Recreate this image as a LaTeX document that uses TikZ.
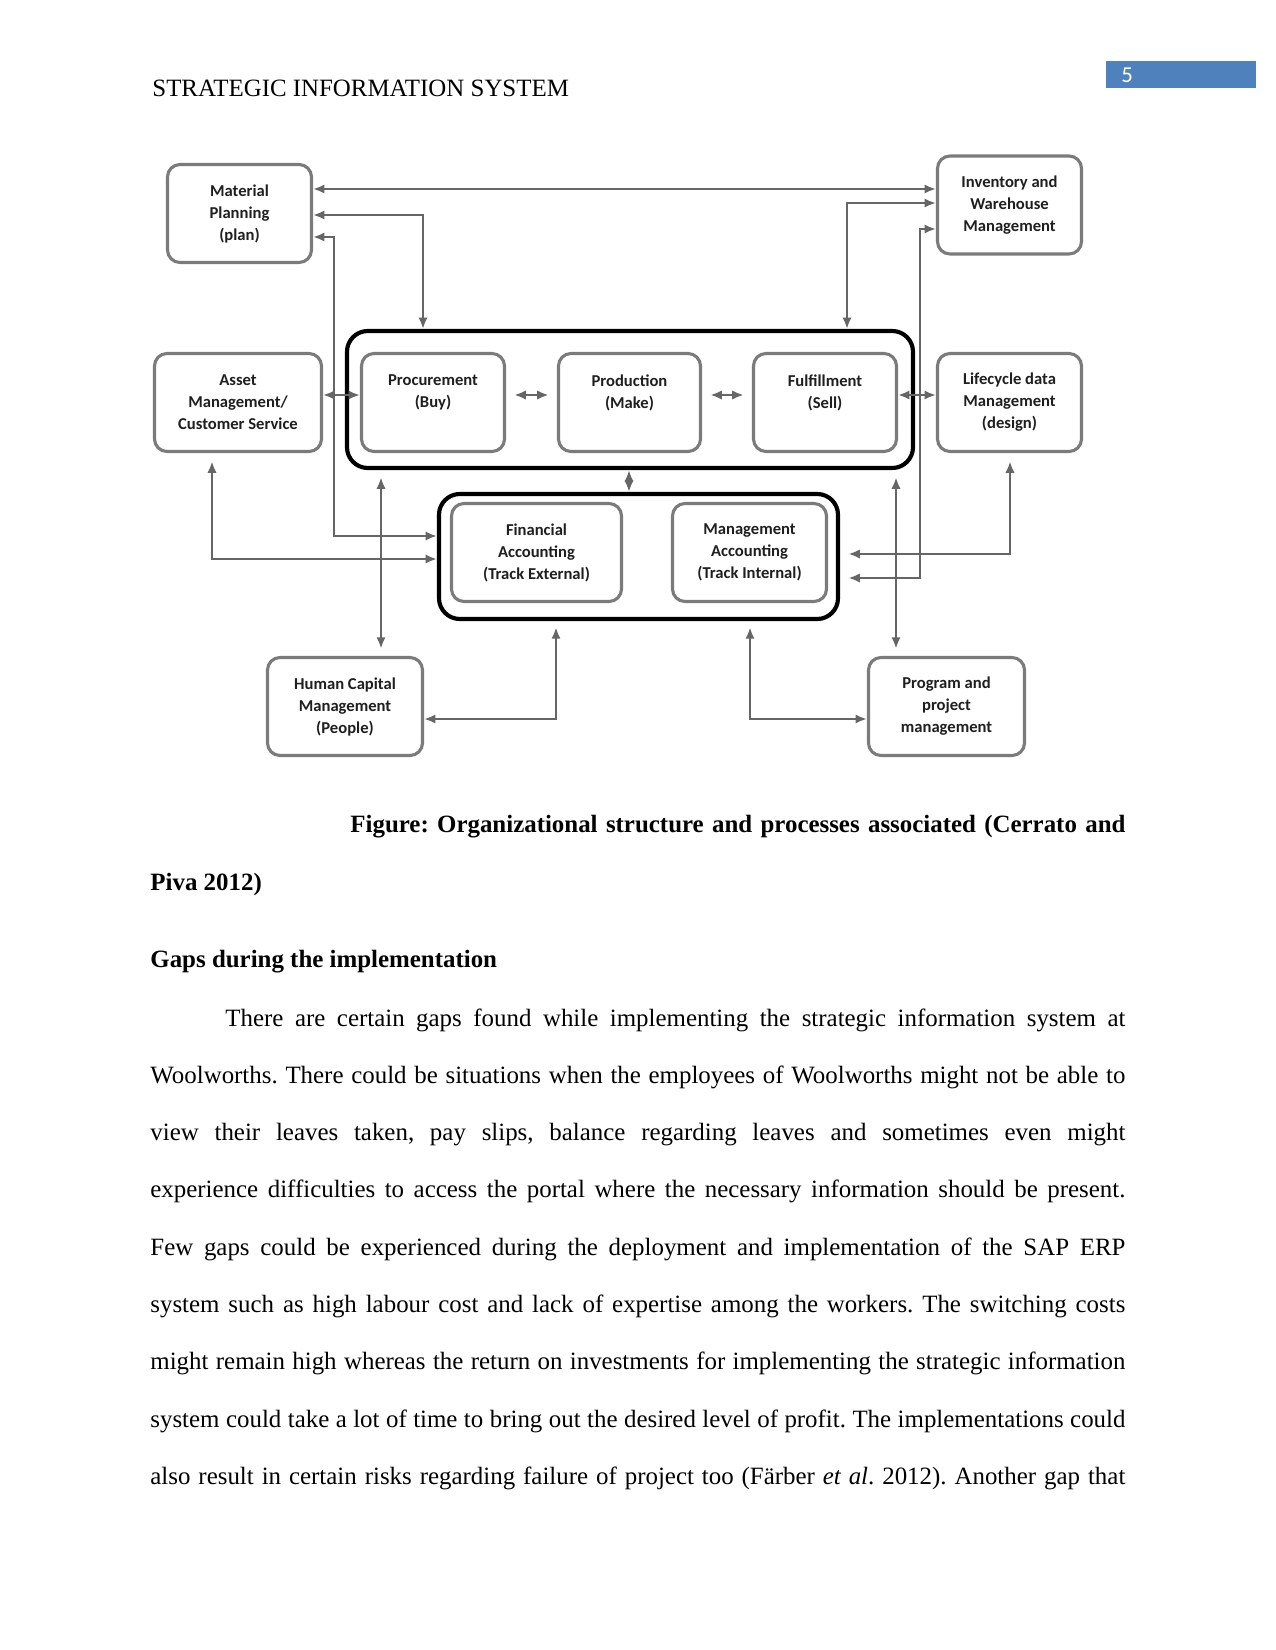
\documentclass[tikz,border=0pt]{standalone}
\usepackage{fontspec}
\setmainfont{Liberation Serif}
\newfontfamily\boxfont{Carlito}
\usetikzlibrary{arrows.meta}

\definecolor{boxgray}{HTML}{7B7B7B}
\definecolor{linkgray}{HTML}{666666}
\definecolor{headblue}{HTML}{4F81BD}
\newcommand{\pxu}{0.4818pt}
\frenchspacing

\tikzset{
  sysbox/.style={draw=boxgray, line width=1.5pt, rounded corners=6pt, fill=white,
    align=center, inner sep=0pt, text=black!88,
    font=\boxfont\bfseries\fontsize{8}{10.6}\selectfont, minimum height=98*\pxu},
  groupbox/.style={draw=black, line width=2pt, rounded corners=10pt, inner sep=0pt},
  link/.style={draw=linkgray, line width=1.2pt,
    {Latex[length=5.5pt,width=4.5pt]}-{Latex[length=5.5pt,width=4.5pt]}},
  linkgap/.style={shorten <=#1, shorten >=#1},
  bodyline/.style={anchor=base west, inner sep=0pt, font=\fontsize{12}{14}\selectfont},
  boldline/.style={bodyline, font=\bfseries\fontsize{12}{14}\selectfont}
}

\begin{document}
\begin{tikzpicture}[x=0.4818pt, y=-0.4818pt]
\useasboundingbox (0,0) rectangle (1275,1650);

% running head
\node[bodyline] (runhead) at (152,97) {STRATEGIC INFORMATION SYSTEM};
\node[fill=headblue, inner sep=0pt, minimum width=150*\pxu, minimum height=27*\pxu] (pagebox) at (1181,74.5) {};
\node[anchor=base west, inner sep=0pt, text=white, font=\boxfont\fontsize{11}{13}\selectfont] (pagenum) at (1121,83) {5};

% groups
\node[groupbox, minimum width=566*\pxu, minimum height=137*\pxu] (ops) at (630,399.5) {};
\node[groupbox, minimum width=399*\pxu, minimum height=125*\pxu] (acct) at (638.5,556.5) {};

% modules
\node[sysbox, minimum width=144*\pxu] (mp) at (239.5,213.5) {Material\\Planning\\(plan)};
\node[sysbox, minimum width=144*\pxu] (inv) at (1009.5,205) {Inventory and\\Warehouse\\Management};
\node[sysbox, minimum width=167*\pxu] (asset) at (238,402.5) {Asset\\Management/\\Customer Service};
\node[sysbox, minimum width=143*\pxu] (proc) at (433,402.5) {Procurement\\(Buy)\\\mbox{}};
\node[sysbox, minimum width=142*\pxu] (prod) at (629.5,402.5) {Production\\(Make)\\\mbox{}};
\node[sysbox, minimum width=143*\pxu] (ful) at (825,402.5) {Fulfillment\\(Sell)\\\mbox{}};
\node[sysbox, minimum width=144*\pxu] (life) at (1009.5,402.5) {Lifecycle data\\Management\\(design)};
\node[sysbox, minimum width=170*\pxu] (fin) at (536.5,552.5) {Financial\\Accounting\\(Track External)};
\node[sysbox, minimum width=154*\pxu] (mgmt) at (749.5,552.5) {Management\\Accounting\\(Track Internal)};
\node[sysbox, minimum width=155*\pxu] (hcm) at (345,706.5) {Human Capital\\Management\\(People)};
\node[sysbox, minimum width=156*\pxu] (prog) at (946.5,706.5) {Program and\\project\\management};

% links
\draw[link] (mp.east |- 0,189) -- (inv.west |- 0,189);
\draw[link] (mp.east |- 0,215) -| (ops.north -| 423,0);
\draw[link] (inv.west |- 0,203) -| (ops.north -| 847,0);
\draw[link] (mp.east |- 0,237) -| (334,536) -- (acct.west |- 0,536);
\draw[link, shorten >=4pt] (inv.west |- 0,229) -| (920,578) -- (acct.east |- 0,578);
\draw[link] (asset.east |- 0,395) -- (proc.west |- 0,395);
\draw[link, linkgap=4pt] (proc.east |- 0,395) -- (prod.west |- 0,395);
\draw[link, linkgap=4pt] (prod.east |- 0,395) -- (ful.west |- 0,395);
\draw[link] (ful.east |- 0,395) -- (life.west |- 0,395);
\draw[link] (ops.south -| 629,0) -- (acct.north -| 629,0);
\draw[link, shorten <=4pt] (asset.south -| 212,0) |- (acct.west |- 0,559);
\draw[link, linkgap=3.5pt] (ops.south -| 381,0) -- (hcm.north -| 381,0);
\draw[link, linkgap=3.5pt] (ops.south -| 896,0) -- (prog.north -| 896,0);
\draw[link, shorten <=3pt] (acct.south -| 556,0) |- (hcm.east |- 0,719);
\draw[link, shorten <=3pt] (acct.south -| 750,0) |- (prog.west |- 0,719);
\draw[link, linkgap=4pt] (life.south -| 1010,0) |- (acct.east |- 0,554);

% caption and text
\node[boldline] (cap1) at (350,832) {\makebox[373.4pt][s]{Figure: Organizational structure and processes associated (Cerrato and}};
\node[boldline] (cap2) at (150,890) {Piva 2012)};
\node[boldline] (gaps) at (150,967) {Gaps during the implementation};
\node[bodyline] (line1) at (225,1026) {\makebox[433.6pt][s]{There are certain gaps found while implementing the strategic information system at}};
\node[bodyline] (line2) at (150,1083.3) {\makebox[469.75pt][s]{Woolworths. There could be situations when the employees of Woolworths might not be able to}};
\node[bodyline] (line3) at (150,1140.6) {\makebox[469.75pt][s]{view their leaves taken, pay slips, balance regarding leaves and sometimes even might}};
\node[bodyline] (line4) at (150,1197.9) {\makebox[469.75pt][s]{experience difficulties to access the portal where the necessary information should be present.}};
\node[bodyline] (line5) at (150,1255.2) {\makebox[469.75pt][s]{Few gaps could be experienced during the deployment and implementation of the SAP ERP}};
\node[bodyline] (line6) at (150,1312.5) {\makebox[469.75pt][s]{system such as high labour cost and lack of expertise among the workers. The switching costs}};
\node[bodyline] (line7) at (150,1369.8) {\makebox[469.75pt][s]{might remain high whereas the return on investments for implementing the strategic information}};
\node[bodyline] (line8) at (150,1427.1) {\makebox[469.75pt][s]{system could take a lot of time to bring out the desired level of profit. The implementations could}};
\node[bodyline] (line9) at (150,1484.4) {\makebox[469.75pt][s]{also result in certain risks regarding failure of project too (Färber \textit{et al}. 2012). Another gap that}};
\end{tikzpicture}
\end{document}
